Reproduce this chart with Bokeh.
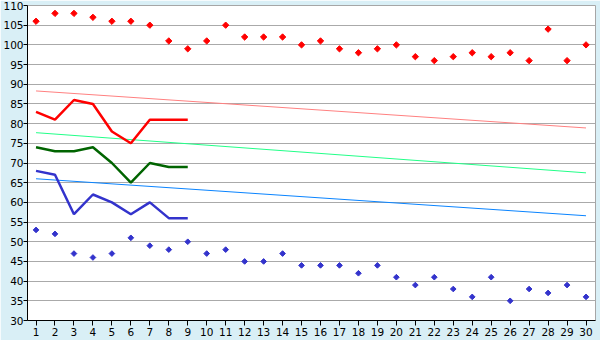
from bokeh.plotting import figure
from bokeh.models import Range1d, FixedTicker
from bokeh.embed import file_html
from bokeh.resources import INLINE

days = list(range(1, 31))
high_points = [106, 108, 108, 107, 106, 106, 105, 101, 99, 101, 105, 102, 102, 102, 100,
               101, 99, 98, 99, 100, 97, 96, 97, 98, 97, 98, 96, 104, 96, 100]
low_points = [53, 52, 47, 46, 47, 51, 49, 48, 50, 47, 48, 45, 45, 47, 44,
              44, 44, 42, 44, 41, 39, 41, 38, 36, 41, 35, 38, 37, 39, 36]

line_days = list(range(1, 10))
red_line = [83, 81, 86, 85, 78, 75, 81, 81, 81]
green_line = [74, 73, 73, 74, 70, 65, 70, 69, 69]
blue_line = [68, 67, 57, 62, 60, 57, 60, 56, 56]

trend_days = [1, 30]
red_trend = [88.3, 78.9]
green_trend = [77.7, 67.5]
blue_trend = [66.0, 56.6]

y_ticks = list(range(30, 111, 5))

p = figure(width=600, height=340, output_backend="svg", toolbar_location=None,
           x_range=Range1d(0.55, 30.5), y_range=Range1d(30, 110),
           min_border_left=27, min_border_right=5, min_border_top=5, min_border_bottom=20)
p.background_fill_color = "white"
p.border_fill_color = "#d9eff6"
p.outline_line_color = "#a6a6a6"
p.outline_line_width = 1

p.xgrid.grid_line_color = None
p.ygrid.grid_line_color = "#aaaaaa"
p.ygrid.grid_line_width = 1

for ax in (p.xaxis[0], p.yaxis[0]):
    ax.axis_line_color = "black"
    ax.major_tick_line_color = "black"
    ax.minor_tick_line_color = None
    ax.major_tick_in = 0
    ax.major_label_text_font = "DejaVu Sans"
    ax.major_label_text_font_size = "10.5px"
    ax.major_label_text_color = "black"

p.xaxis.ticker = FixedTicker(ticks=days)
p.xaxis.major_tick_out = 5
p.xaxis.major_label_standoff = 2
p.yaxis.ticker = FixedTicker(ticks=y_ticks)
p.yaxis.major_tick_out = 4
p.yaxis.major_label_standoff = 0

p.line(trend_days, red_trend, line_color="#ff8080", line_width=1)
p.line(trend_days, green_trend, line_color="#22ff88", line_width=1)
p.line(trend_days, blue_trend, line_color="#0a84ff", line_width=1)

p.line(line_days, red_line, line_color="#ff0000", line_width=2.5)
p.line(line_days, green_line, line_color="#006400", line_width=2.5)
p.line(line_days, blue_line, line_color="#3333cc", line_width=2.5)

p.scatter(days, high_points, marker="square", angle=0.785398, size=4.5,
          fill_color="#ff0000", line_color="#ff0000", line_width=1)
p.scatter(days, low_points, marker="square", angle=0.785398, size=4,
          fill_color="#3333cc", line_color="#3333cc", line_width=1)

open("out.html", "w").write(file_html(p, INLINE))
